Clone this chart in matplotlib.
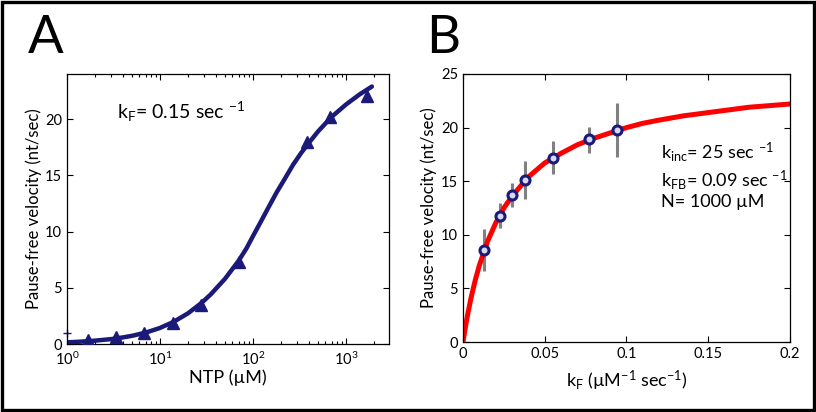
import matplotlib
matplotlib.use("Agg")
import matplotlib.pyplot as plt
from matplotlib.patches import Rectangle

plt.rcParams['font.family'] = ['Lato', 'DejaVu Sans']
plt.rcParams['mathtext.fontset'] = 'custom'
plt.rcParams['mathtext.rm'] = 'Lato'
plt.rcParams['mathtext.it'] = 'Lato:italic'
plt.rcParams['mathtext.default'] = 'regular'

# panel A: NTP titration (kF = 0.15)
ntp_pts = [1.7, 3.4, 6.8, 13.7, 27.5, 70, 380, 680, 1700]
vel_pts = [0.35, 0.6, 1.0, 1.9, 3.5, 7.3, 18.0, 20.2, 22.1]
ntp_curve = [1, 1.4, 2, 3, 4, 5, 7, 10, 14, 20, 28, 35, 50, 70, 85, 100, 120, 150,
             180, 220, 270, 330, 400, 500, 700, 1000, 1400, 1900]
vel_curve = [0.15, 0.21, 0.3, 0.44, 0.59, 0.73, 1.01, 1.43, 1.97, 2.73, 3.66, 4.4,
             5.8, 7.4, 8.5, 9.6, 10.8, 12.3, 13.5, 14.7, 15.95, 17.0, 17.9, 18.9,
             20.2, 21.3, 22.2, 22.9]

# panel B: velocity vs kF
kf_pts = [0.0129, 0.0225, 0.0302, 0.038, 0.0549, 0.0771, 0.0939]
vkf_pts = [8.56, 11.77, 13.67, 15.07, 17.19, 18.9, 19.77]
err_lo = [1.93, 1.09, 1.12, 1.77, 1.56, 1.31, 2.49]
err_hi = [1.99, 1.15, 1.18, 1.83, 1.58, 1.18, 2.49]
kf_curve = [0, 0.0005, 0.001, 0.002, 0.003, 0.005, 0.0075, 0.01, 0.015, 0.02, 0.025,
            0.03, 0.04, 0.05, 0.06, 0.07, 0.08, 0.09, 0.1, 0.11, 0.12, 0.135, 0.15,
            0.175, 0.2]
vkf_curve = [0, 0.49, 0.96, 1.85, 2.68, 4.17, 5.77, 7.14, 9.38, 11.1, 12.5,
             13.6, 15.4, 16.7, 17.6, 18.4, 19.0, 19.5, 20.0, 20.4, 20.7, 21.1, 21.4,
             21.9, 22.2]

navy = '#1b1a78'

fig = plt.figure(figsize=(8.16, 4.12), dpi=100)

axA = fig.add_axes([0.0821, 0.165, 0.3946, 0.655])
axA.plot(ntp_curve, vel_curve, color=navy, lw=3.2, solid_capstyle='round',
         solid_joinstyle='round', zorder=2)
axA.plot(ntp_pts, vel_pts, '^', color=navy, ms=9, zorder=3)
axA.plot([1], [1], '+', color=navy, ms=6, mew=1, clip_on=False)
axA.set_xscale('log')
axA.set_xlim(1, 2900)
axA.set_ylim(0, 24)
axA.set_yticks([0, 5, 10, 15, 20])
axA.set_xlabel('NTP (\u00b5M)', fontsize=13, labelpad=1)
axA.set_ylabel('Pause-free velocity (nt/sec)', fontsize=12, labelpad=2)
axA.text(0.155, 0.86, r'k$_F$= 0.15 sec $^{-1}$', transform=axA.transAxes,
         fontsize=14, va='center')

axB = fig.add_axes([0.5674, 0.1699, 0.4007, 0.6505])
axB.plot(kf_curve, vkf_curve, color='#ff0000', lw=3.6, solid_joinstyle='round', zorder=2)
axB.errorbar(kf_pts, vkf_pts, yerr=[err_lo, err_hi], fmt='none', ecolor='#808080',
             elinewidth=2.2, capsize=0, zorder=1)
axB.plot(kf_pts, vkf_pts, 'o', ms=6.5, mfc='#d8d8f0', mec=navy, mew=2.2, zorder=3)
axB.set_xlim(0, 0.2)
axB.set_ylim(0, 25)
axB.set_xticks([0, 0.05, 0.1, 0.15, 0.2])
axB.set_xticklabels(['0', '0.05', '0.1', '0.15', '0.2'])
axB.set_xlabel('k$_F$ (\u00b5M$^{-1}$ sec$^{-1}$)', fontsize=13, labelpad=6)
axB.set_ylabel('Pause-free velocity (nt/sec)', fontsize=12, labelpad=3)
axB.text(0.605, 0.709, r'k$_{inc}$= 25 sec $^{-1}$', transform=axB.transAxes,
         fontsize=13, va='center')
axB.text(0.605, 0.604, r'k$_{FB}$= 0.09 sec $^{-1}$', transform=axB.transAxes,
         fontsize=13, va='center')
axB.text(0.605, 0.522, 'N= 1000 \u00b5M', transform=axB.transAxes,
         fontsize=13, va='center')

for ax in (axA, axB):
    ax.tick_params(which='both', direction='in', top=True, right=True,
                   labelsize=10.5, width=0.8)
    ax.tick_params(which='major', length=4)
    ax.tick_params(which='minor', length=2.5)
    for s in ax.spines.values():
        s.set_linewidth(0.9)
axA.tick_params(axis='x', pad=5)

fig.text(28 / 816, 0.871, 'A', fontsize=38, va='baseline')
fig.text(426 / 816, 0.871, 'B', fontsize=38, va='baseline')

fig.patches.append(Rectangle((0.002, 0.004), 0.996, 0.992, transform=fig.transFigure,
                             fill=False, edgecolor='black', lw=2.4))

fig.savefig('out.png', dpi=100)
